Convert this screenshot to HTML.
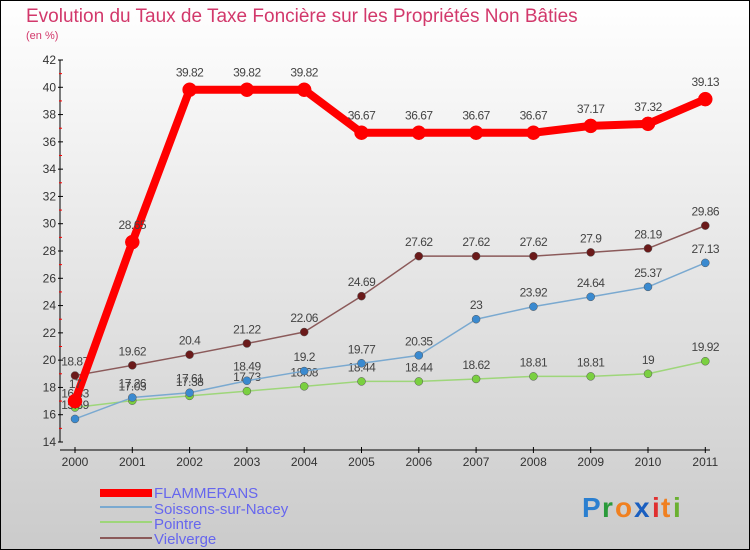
<!DOCTYPE html>
<html><head><meta charset="utf-8"><style>
body{margin:0}
#c{width:750px;height:550px;position:relative;overflow:hidden;font-family:"Liberation Sans",sans-serif}
</style></head><body>
<div id="c">
<svg id="s" width="750" height="550" xmlns="http://www.w3.org/2000/svg">
<defs><linearGradient id="bg" x1="0" y1="0" x2="0" y2="1"><stop offset="0" stop-color="#ffffff"/><stop offset="1" stop-color="#cbcbcb"/></linearGradient></defs>
<rect x="0.5" y="0.5" width="749" height="549" fill="url(#bg)" stroke="#000"/>
<text x="26" y="22" font-size="19" fill="#d2386b">Evolution du Taux de Taxe Foncière sur les Propriétés Non Bâties</text>
<text x="26" y="39" font-size="11" fill="#d2386b">(en %)</text>
<g id="axes"></g><g id="series"></g>
<g>
<rect x="100" y="489" width="52" height="8" fill="#f00"/>
<text x="154" y="498" font-size="15" fill="#6666ee">FLAMMERANS</text>
<rect x="100" y="506" width="52" height="2" fill="#7aa9d0"/>
<text x="154" y="514" font-size="15" fill="#6666ee">Soissons-sur-Nacey</text>
<rect x="100" y="521" width="52" height="2" fill="#9ed67a"/>
<text x="154" y="529" font-size="15" fill="#6666ee">Pointre</text>
<rect x="100" y="537" width="52" height="2" fill="#8b5a5a"/>
<text x="154" y="544" font-size="15" fill="#6666ee">Vielverge</text>
</g>
<g font-size="28" font-weight="bold">
<text x="582" y="517" fill="#2a7fd0">P</text><text x="602" y="517" fill="#2a9a3a">r</text><text x="615" y="517" fill="#f08020">o</text><text x="634" y="517" fill="#1a5fc0">x</text><text x="652" y="517" fill="#e03030">i</text><text x="661" y="517" fill="#f08020">t</text><text x="673" y="517" fill="#6ab030">i</text>
</g>
</svg>
</div>
<script>
const years=["2000","2001","2002","2003","2004","2005","2006","2007","2008","2009","2010","2011"];
const yTicks=[14,16,18,20,22,24,26,28,30,32,34,36,38,40,42];
const flammerans=[17,28.65,39.82,39.82,39.82,36.67,36.67,36.67,36.67,37.17,37.32,39.13];
const soissons=[15.69,17.26,17.61,18.49,19.2,19.77,20.35,23,23.92,24.64,25.37,27.13];
const pointre=[16.53,17.03,17.38,17.73,18.08,18.44,18.44,18.62,18.81,18.81,19,19.92];
const vielverge=[18.87,19.62,20.4,21.22,22.06,24.69,27.62,27.62,27.62,27.9,28.19,29.86];
const NS="http://www.w3.org/2000/svg";
const X=i=>75+i*57.3, Y=v=>442-(v-14)*(382/28);
function mk(t,a,p){const e=document.createElementNS(NS,t);for(const k in a)e.setAttribute(k,a[k]);p.appendChild(e);return e;}
const ax=document.getElementById('axes');
const yl=mk('line',{x1:60,y1:60,x2:60,y2:442,stroke:'#000'},ax);

const xl=mk('line',{x1:60,y1:450,x2:710,y2:450,stroke:'#000'},ax);

yTicks.forEach((t,i)=>{
 mk('line',{x1:58,x2:63,y1:Y(t),y2:Y(t),stroke:'#000'},ax);
 if(i<yTicks.length-1)mk('line',{x1:59,x2:62,y1:Y(t+1),y2:Y(t+1),stroke:'#f00'},ax);
 const tx=mk('text',{x:56,y:Y(t)+4,'font-size':12,fill:'#333','text-anchor':'end'},ax);tx.textContent=t;
 
});
years.forEach((y,i)=>{
 mk('line',{x1:X(i),x2:X(i),y1:447,y2:453,stroke:'#000'},ax);
 const tx=mk('text',{x:X(i),y:466,'font-size':12,fill:'#333','text-anchor':'middle'},ax);tx.textContent=y;
 
});
const sg=document.getElementById('series');
function series(name,d,col,w,r,fill){
 const g=mk('g',{},sg);
 
 const l=mk('polyline',{points:d.map((v,i)=>X(i)+','+Y(v)).join(' '),fill:'none',stroke:col,'stroke-width':w,'stroke-linejoin':'round'},g);
 
 d.forEach((v,i)=>{
  const c=mk('circle',{cx:X(i),cy:Y(v),r:r,fill:fill,stroke:col==='#f00'?'#f00':'#555','stroke-width':0.5},g);
  
  const t=mk('text',{x:X(i),y:Y(v)-(r+6),'font-size':12,fill:'#444','text-anchor':'middle','letter-spacing':'-0.5'},g);t.textContent=v;
  
 });
}
series('vielverge',vielverge,'#8b5a5a',1.5,4,'#6b1a1a');
series('pointre',pointre,'#9ed67a',1.5,4,'#7ad040');
series('soissons',soissons,'#7aa9d0',1.5,4,'#3a8ad0');
series('flammerans',flammerans,'#f00',8,7,'#f00');
</script>
</body></html>
